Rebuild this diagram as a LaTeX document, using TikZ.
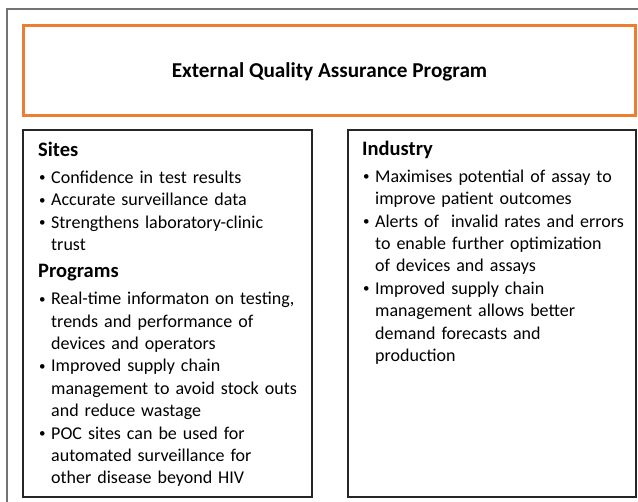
\documentclass[tikz,border=0pt]{standalone}
\usepackage{fontspec}
\setmainfont{Carlito}
\usetikzlibrary{positioning}
\definecolor{eqaorange}{HTML}{ED7D31}
\newcommand\hd[1]{{\bfseries\fontsize{20.5}{27.3}\selectfont #1\par}\vspace{4.4pt}}
\newcommand\itm[1]{\hangindent=13pt\hangafter=1\noindent
    \hbox to 13pt{\hskip1pt\raisebox{1.6pt}{\fontsize{13}{13}\selectfont\textbullet}\hss}#1\par}
\begin{document}
\begin{tikzpicture}[x=1pt,y=-1pt,
    panel/.style={draw=black!85,line width=2.2pt,anchor=north west,inner sep=0pt},
    blurb/.style={anchor=north west,inner sep=0pt,text width=272pt,
        font=\fontsize{18}{22.4}\selectfont}]
    \def\W{638} \def\H{502}
    \useasboundingbox (0,0) rectangle (\W,\H);
    \draw[black!55,line width=1.2pt] (7,\H)--(7,9)--(\W,9);
    %===========================================
    \node[draw=eqaorange,line width=3pt,anchor=north west,minimum width=612pt,
        minimum height=90pt,text depth=0pt,font=\bfseries\fontsize{21.2}{25}\selectfont] (eqa) at (22,24)
        {External Quality Assurance Program};
    \node[panel,minimum width=289pt,minimum height=367pt] (sites) at (22,129) {};
    \node[panel,minimum width=288pt,minimum height=367pt] (industry) at (347,129) {};
    %===========================================
    \node[blurb,below right=13pt and 16pt of sites.north west] (sitestext) {%
        \hd{Sites}
        \itm{Confidence in test results}
        \itm{Accurate surveillance data}
        \itm{Strengthens laboratory-clinic\newline trust}
        \hd{Programs}
        \itm{Real-time informaton on testing,\newline trends and performance of\newline devices and operators}
        \itm{Improved supply chain\newline management to avoid stock outs\newline and reduce wastage}
        \itm{POC sites can be used for\newline automated surveillance for\newline other disease beyond HIV}};
    \node[blurb,below right=12pt and 15pt of industry.north west] (industrytext) {%
        \hd{Industry}
        \itm{Maximises potential of assay to\newline improve patient outcomes}
        \itm{Alerts of~ invalid rates and errors\newline to enable further optimization\newline of devices and assays}
        \itm{Improved supply chain\newline management allows better\newline demand forecasts and\newline production}};
\end{tikzpicture}
\end{document}
